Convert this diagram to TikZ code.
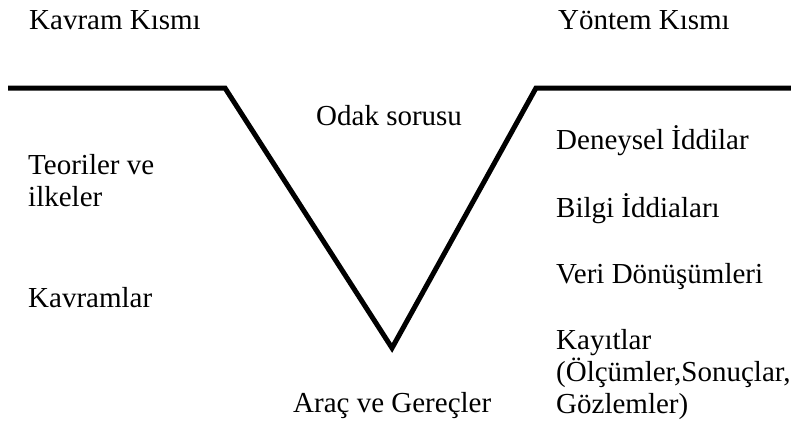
\documentclass[tikz,border=0pt]{standalone}
\usepackage{fontspec}
\setmainfont{Liberation Serif}
\usetikzlibrary{positioning}

\begin{document}
\begin{tikzpicture}[
    x=1pt, y=-1pt,
    label/.style={anchor=base west, inner sep=0pt, font=\rmfamily\fontsize{29}{32}\selectfont, align=left},
    vline/.style={line width=5pt, line join=miter}
]
    \useasboundingbox (0,0) rectangle (791,426);

    % Headings
    \node[label] (kavramk) at (29,29) {Kavram Kısmı};
    \node[label] (yontemk) at (558,29) {Yöntem Kısmı};

    % V shape
    \coordinate (lstart) at (8,88);
    \coordinate (lcorner) at (225,88);
    \coordinate (vtip) at (392,348);
    \coordinate (rcorner) at (536,88);
    \coordinate (rend) at (795,88);
    \draw[vline] (lstart) -- (lcorner) -- (vtip) -- (rcorner) -- (rend);

    % Middle
    \node[label] (odak) at (316,125) {Odak sorusu};
    \node[label] (arac) at (293,412) {Araç ve Gereçler};

    % Left side (base = last line)
    \node[label] (teori) at (28,206) {Teoriler ve\\ilkeler};
    \node[label] (kavramlar) at (28,307) {Kavramlar};

    % Right side
    \node[label] (deney) at (556,149) {Deneysel İddilar};
    \node[label] (bilgi) at (556,217) {Bilgi İddiaları};
    \node[label] (veri) at (556,283) {Veri Dönüşümleri};
    \node[label] (kayit) at (556,413) {Kayıtlar\\(Ölçümler,Sonuçlar,\\Gözlemler)};
\end{tikzpicture}
\end{document}
